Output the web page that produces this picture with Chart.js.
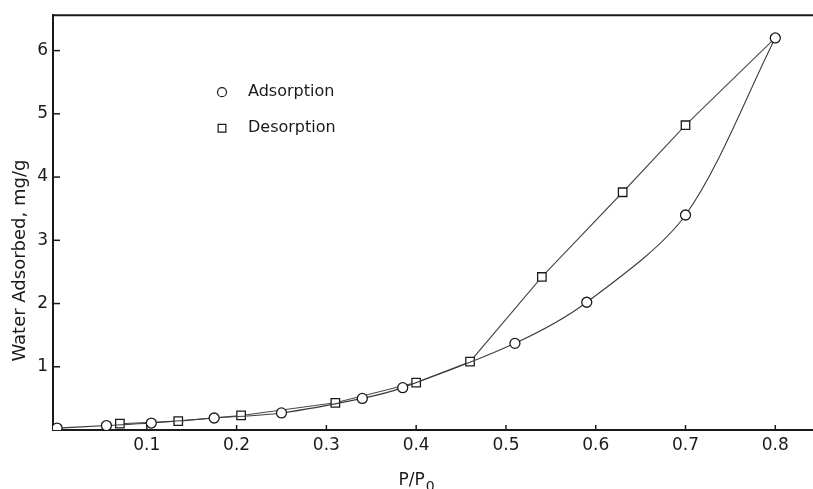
<!DOCTYPE html>
<html>
<head>
<meta charset="utf-8">
<script src="https://cdn.jsdelivr.net/npm/chart.js@4.4.0/dist/chart.umd.min.js"></script>
<style>
  html, body { margin: 0; padding: 0; background: #fff; overflow: hidden; }
  #wrap { width: 813px; height: 489px; position: relative; }
</style>
</head>
<body>
<div id="wrap"><canvas id="isotherm"></canvas></div>
<script>
// water isotherm, P/P0 vs mg/g
const adsX = [0.0, 0.055, 0.105, 0.175, 0.25, 0.34, 0.385, 0.51, 0.59, 0.70, 0.80];
const adsY = [0.03, 0.07, 0.11, 0.19, 0.27, 0.50, 0.67, 1.37, 2.02, 3.40, 6.2];
const desX = [0.07, 0.135, 0.205, 0.31, 0.40, 0.46, 0.54, 0.63, 0.70, 0.80];
const desY = [0.10, 0.14, 0.23, 0.43, 0.75, 1.08, 2.42, 3.76, 4.82, 6.2];
const xTicks = [0.1, 0.2, 0.3, 0.4, 0.5, 0.6, 0.7, 0.8];
const yTicks = [1, 2, 3, 4, 5, 6];
const seriesNames = ['Adsorption', 'Desorption'];
const yTitle = 'Water Adsorbed, mg/g';

const FONT = '"DejaVu Sans", sans-serif';
const INK = '#1a1a1a';

Chart.defaults.font.family = FONT;
Chart.defaults.color = INK;

const toPoints = (xs, ys) => xs.map((v, i) => ({ x: v, y: ys[i] }));

// top border, inward ticks, legend box and the axis titles
const frame = {
  id: 'frame',
  afterDraw(chart) {
    const { ctx, chartArea: a, scales: { x, y } } = chart;
    ctx.save();
    ctx.strokeStyle = INK;
    ctx.lineWidth = 2;
    ctx.beginPath();
    ctx.moveTo(a.left, a.top);
    ctx.lineTo(a.right, a.top);
    ctx.stroke();

    ctx.lineWidth = 1.5;
    xTicks.forEach(v => {
      const px = x.getPixelForValue(v);
      ctx.beginPath();
      ctx.moveTo(px, a.bottom);
      ctx.lineTo(px, a.bottom - 5);
      ctx.stroke();
    });
    yTicks.forEach(v => {
      const py = y.getPixelForValue(v);
      ctx.beginPath();
      ctx.moveTo(a.left, py);
      ctx.lineTo(a.left + 7, py);
      ctx.stroke();
    });

    // legend
    const lx = a.left + 169, ly = a.top + 77;
    const styles = [{ pointStyle: 'circle', radius: 4.5 }, { pointStyle: 'rect', radius: 5.5 }];
    ctx.font = '16px ' + FONT;
    ctx.textBaseline = 'middle';
    ctx.textAlign = 'left';
    seriesNames.forEach((name, i) => {
      const yy = ly + i * 36;
      ctx.fillStyle = '#fff';
      ctx.strokeStyle = INK;
      ctx.lineWidth = 1.2;
      Chart.helpers.drawPoint(ctx, { ...styles[i], rotation: 0, borderWidth: 1.2 }, lx, yy);
      ctx.fillStyle = INK;
      ctx.fillText(name, lx + 26, yy);
    });

    // y title, sits a little below the middle of the axis
    ctx.save();
    ctx.translate(20, (a.top + a.bottom) / 2 + 38);
    ctx.rotate(-Math.PI / 2);
    ctx.font = '18px ' + FONT;
    ctx.textAlign = 'center';
    ctx.textBaseline = 'middle';
    ctx.fillText(yTitle, 0, 0);
    ctx.restore();

    // P/P0
    ctx.textAlign = 'left';
    ctx.textBaseline = 'alphabetic';
    ctx.font = '17px ' + FONT;
    const w1 = ctx.measureText('P/P').width;
    ctx.font = '14px ' + FONT;
    const w2 = ctx.measureText('0').width;
    const sx = x.getPixelForValue(0.4) - (w1 + w2) / 2;
    const base = chart.height - 4;
    ctx.font = '17px ' + FONT;
    ctx.fillText('P/P', sx, base);
    ctx.font = '14px ' + FONT;
    ctx.fillText('0', sx + w1 + 1, base + 6);
    ctx.restore();
  }
};

new Chart(document.getElementById('isotherm'), {
  type: 'scatter',
  data: {
    datasets: [
      {
        label: seriesNames[0],
        data: toPoints(adsX, adsY),
        showLine: true,
        tension: 0.3,
        borderColor: '#3c3c3c',
        borderWidth: 1.1,
        pointStyle: 'circle',
        pointRadius: 5,
        pointBorderWidth: 1.3,
        pointBorderColor: INK,
        pointBackgroundColor: '#fff'
      },
      {
        label: seriesNames[1],
        data: toPoints(desX, desY),
        showLine: true,
        tension: 0,
        borderColor: '#4a4a4a',
        borderWidth: 1.1,
        pointStyle: 'rect',
        // last point is the shared adsorption top, no square there
        pointRadius: c => c.dataIndex === desX.length - 1 ? 0 : 6,
        pointBorderWidth: 1.3,
        pointBorderColor: INK,
        pointBackgroundColor: '#fff'
      }
    ]
  },
  options: {
    responsive: true,
    maintainAspectRatio: false,
    animation: false,
    layout: { autoPadding: false, padding: { top: 14, right: 0, bottom: 0, left: 0 } },
    plugins: {
      legend: { display: false },
      tooltip: { enabled: false }
    },
    scales: {
      x: {
        type: 'linear',
        min: -0.0045,
        max: 0.842,
        afterBuildTicks: s => { s.ticks = xTicks.map(v => ({ value: v })); },
        afterFit: s => { s.height = 59; },
        ticks: {
          padding: 5,
          autoSkip: false,
          maxRotation: 0,
          font: { size: 17 },
          callback: v => v.toFixed(1)
        },
        grid: { display: false, drawTicks: false },
        border: { display: true, color: INK, width: 2 }
      },
      y: {
        min: 0,
        max: 6.56,
        afterBuildTicks: s => { s.ticks = yTicks.map(v => ({ value: v })); },
        afterFit: s => { s.width = 53; },
        ticks: { padding: 5, font: { size: 17 } },
        grid: { display: false, drawTicks: false },
        border: { display: true, color: INK, width: 2 }
      }
    }
  },
  plugins: [frame]
});
</script>
</body>
</html>
